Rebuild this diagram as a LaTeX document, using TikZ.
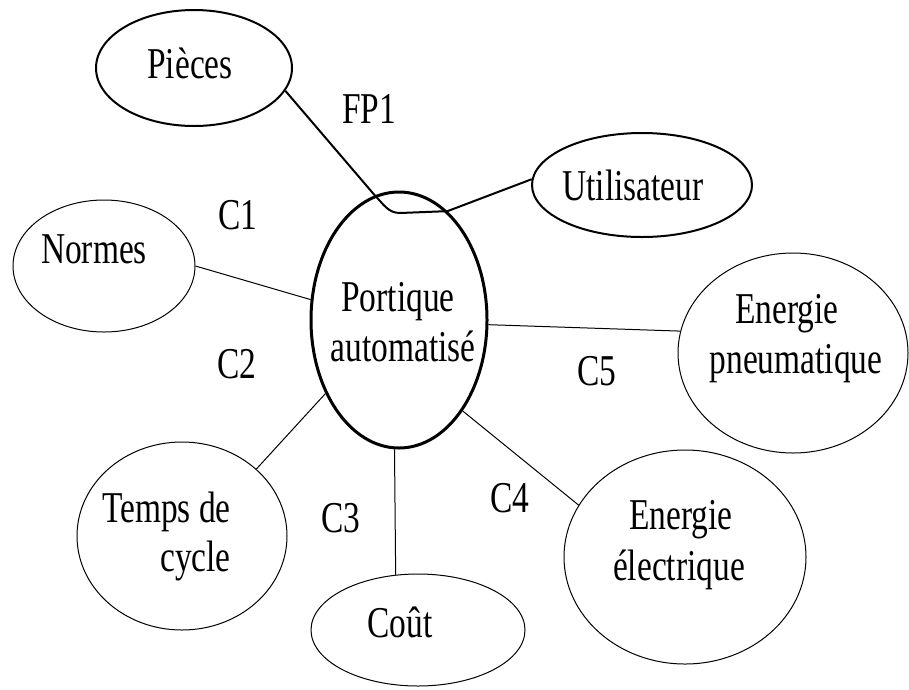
\documentclass[tikz,border=0pt]{standalone}
\usepackage{fontspec}
\setmainfont{Liberation Serif}[FakeStretch=0.76]
\usetikzlibrary{shapes.geometric}
\begin{document}
\begin{tikzpicture}[x=1pt,y=-1pt,
  oval/.style={ellipse,draw,inner sep=0pt,line width=1pt},
  txt/.style={anchor=base,inner sep=0pt,font=\fontsize{44}{52}\selectfont},
  link/.style={line width=1pt},
  fplink/.style={line width=2pt,line join=round}]
\useasboundingbox (0,0) rectangle (909,689);
% ellipses
\node[oval,line width=3pt,minimum width=176pt,minimum height=256pt] (central) at (399,320) {};
\node[oval,line width=2pt,minimum width=196pt,minimum height=116pt] (pieces) at (194,68) {};
\node[oval,line width=2pt,minimum width=220pt,minimum height=104pt] (util) at (642,185) {};
\node[oval,minimum width=182pt,minimum height=132pt] (normes) at (104,266) {};
\node[oval,minimum width=230pt,minimum height=200pt] (pneu) at (793,353) {};
\node[oval,minimum width=210pt,minimum height=188pt] (temps) at (182,536) {};
\node[oval,minimum width=214pt,minimum height=112pt] (cout) at (418,630) {};
\node[oval,minimum width=242pt,minimum height=214pt] (elec) at (685,557) {};
% texts
\node[txt] (tpieces) at (190,78) {Pièces};
\node[txt] (tutil) at (633,200) {Utilisateur};
\node[txt] (tnormes) at (94,263) {Normes};
\node[txt] (tport1) at (398,311) {Portique};
\node[txt] (tport2) at (403,361) {automatisé};
\node[txt] (tpneu1) at (787,323) {Energie};
\node[txt] (tpneu2) at (796,373) {pneumatique};
\node[txt,anchor=base east] (ttemps1) at (231,522) {Temps de};
\node[txt,anchor=base east] (ttemps2) at (231,571) {cycle};
\node[txt] (tcout) at (400,637) {Coût};
\node[txt] (telec1) at (681,529) {Energie};
\node[txt] (telec2) at (679,580) {électrique};
% labels
\node[txt] (fp1) at (369,123) {FP1};
\node[txt] (c1) at (238,229) {C1};
\node[txt] (c2) at (237,378) {C2};
\node[txt] (c3) at (341,532) {C3};
\node[txt] (c4) at (510,512) {C4};
\node[txt] (c5) at (597,385) {C5};
% connectors
\coordinate (dip) at (400,213);
\draw[fplink] (pieces.-14) -- (central.101) to[out=-45,in=180] (dip) -- (central.66) -- (util.177);
\draw[link] (normes.0) -- (central.167);
\draw[link] (central.-3) -- (pneu.169);
\draw[link] (temps.42) -- (central.225);
\draw[link] (central.268) -- (cout.112);
\draw[link] (central.-55) -- (elec.154);
\end{tikzpicture}
\end{document}
